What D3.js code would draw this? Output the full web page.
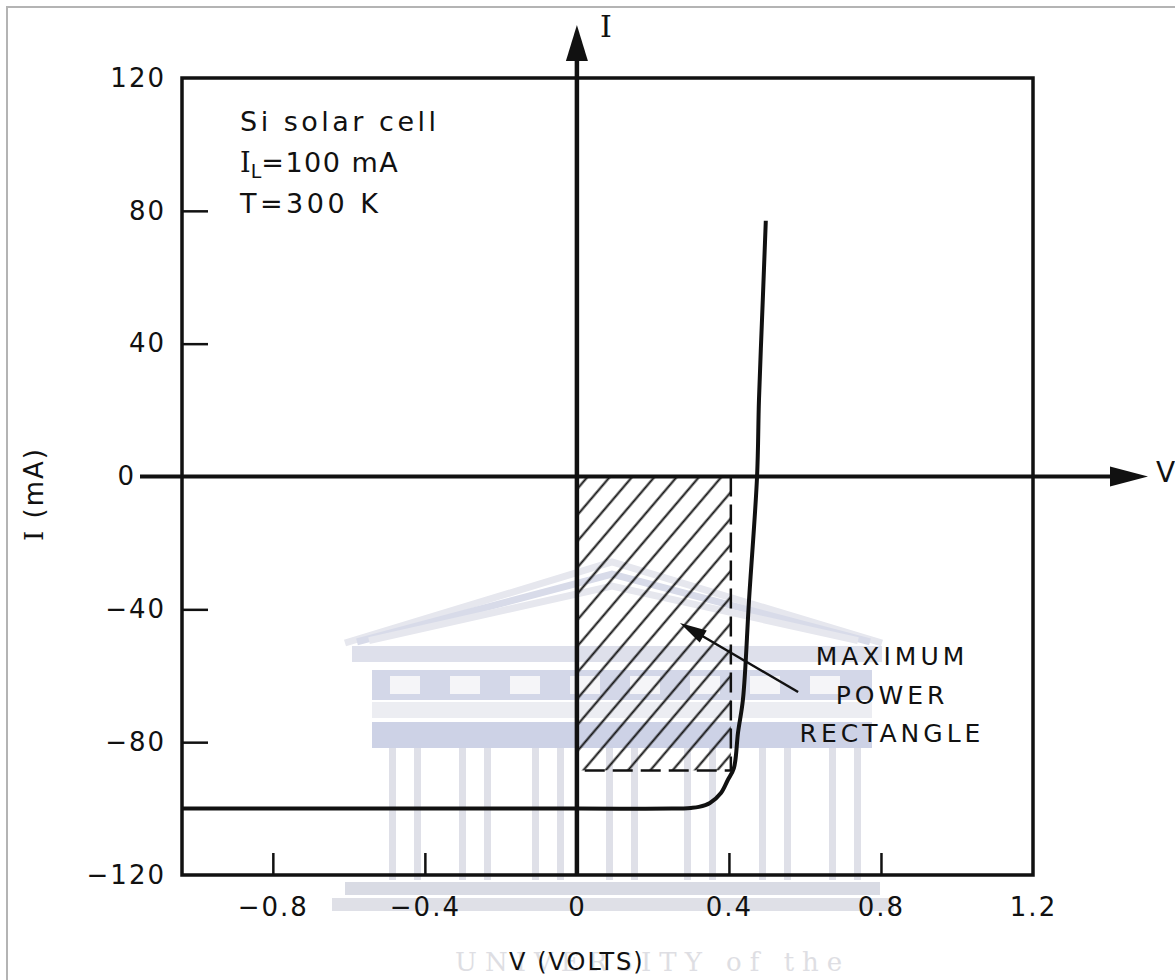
<!DOCTYPE html>
<meta charset="utf-8">
<style>
body { margin: 0; background: #fff; }
svg { display: block; }
.axis .domain { display: none; }
.axis text { font-family: "DejaVu Sans", sans-serif; font-size: 26px; letter-spacing: 2px; fill: #111; }
.axis line { stroke: #111; stroke-width: 2.5px; }
.lbl { font-family: "DejaVu Sans", sans-serif; fill: #111; }
</style>
<svg width="1175" height="980"></svg>
<script src="https://d3js.org/d3.v7.min.js"></script>
<script>

// I-V curve (V in volts, I in mA)
var voltage = [-1.039, 0, 0.25, 0.30, 0.321, 0.35, 0.379, 0.397, 0.413, 0.424, 0.437, 0.453, 0.474, 0.479, 0.489, 0.497];
var current = [-100, -100, -100, -99.8, -99.5, -98.3, -95.3, -91.4, -87.8, -77, -67, -37, 0, 23, 53, 77];

var xTickValues = [-0.8, -0.4, 0, 0.4, 0.8, 1.2];
var yTickValues = [-120, -80, -40, 0, 40, 80, 120];

// maximum power point (corner of the hatched rectangle)
var mppVoltage = 0.405, mppCurrent = -88.5;

var noteLines = ["Si solar cell", "=100 mA", "T=300 K"];
var rectLabel = ["MAXIMUM", "POWER", "RECTANGLE"];

var svg = d3.select("svg"),
    frame = {left: 182, right: 1033, top: 78, bottom: 875};

var x = d3.scaleLinear().domain([-1.039, 1.2]).range([frame.left, frame.right]);
var y = d3.scaleLinear().domain([-120, 120]).range([frame.bottom, frame.top]);

// page border of the scanned figure
svg.append("path")
    .attr("d", "M7,980 V7 H1175")
    .attr("fill", "none")
    .attr("stroke", "#b4b4b4")
    .attr("stroke-width", 2);

// faint watermark behind the plot
var wm = svg.append("g").attr("class", "watermark");
[0, 12, 24].forEach(function(o) {
  wm.append("path")
      .attr("d", "M" + (345 + o) + "," + (643 - o * 0.1) + " L612," + (562 + o) + " L" + (882 - o) + "," + (643 - o * 0.1))
      .attr("fill", "none")
      .attr("stroke", o === 12 ? "#d8dbe9" : "#e6e7ee")
      .attr("stroke-width", 7);
});
wm.append("rect").attr("x", 352).attr("y", 646).attr("width", 530).attr("height", 16).attr("fill", "#dee0eb");
wm.append("rect").attr("x", 372).attr("y", 670).attr("width", 500).attr("height", 30).attr("fill", "#d3d7e8");
d3.range(8).forEach(function(i) {
  wm.append("rect").attr("x", 390 + i * 60).attr("y", 676).attr("width", 30).attr("height", 18).attr("fill", "#f5f5f8");
});
wm.append("rect").attr("x", 372).attr("y", 702).attr("width", 500).attr("height", 16).attr("fill", "#ecedf2");
wm.append("rect").attr("x", 372).attr("y", 722).attr("width", 500).attr("height", 26).attr("fill", "#cdd2e6");
[405, 475, 548, 622, 700, 775, 845].forEach(function(c) {
  wm.append("rect").attr("x", c - 16).attr("y", 748).attr("width", 7).attr("height", 132).attr("fill", "#dfe0e8");
  wm.append("rect").attr("x", c + 9).attr("y", 748).attr("width", 7).attr("height", 132).attr("fill", "#dfe0e8");
});
wm.append("rect").attr("x", 345).attr("y", 882).attr("width", 535).attr("height", 13).attr("fill", "#d9dbe4");
wm.append("rect").attr("x", 332).attr("y", 898).attr("width", 562).attr("height", 13).attr("fill", "#dfe0e7");
wm.append("text")
    .attr("x", 455).attr("y", 971)
    .attr("font-family", "DejaVu Serif, serif")
    .attr("font-size", 26)
    .attr("letter-spacing", 8)
    .attr("fill", "#dedee3")
    .text("UNIVERSITY of the");

// hatched maximum power rectangle
var defs = svg.append("defs");
var pat = defs.append("pattern")
    .attr("id", "hatch")
    .attr("patternUnits", "userSpaceOnUse")
    .attr("width", 17)
    .attr("height", 17)
    .attr("patternTransform", "rotate(40.4)");
pat.append("line")
    .attr("x1", 8.5).attr("y1", 0).attr("x2", 8.5).attr("y2", 17)
    .attr("stroke", "#111").attr("stroke-width", 2);

svg.append("rect")
    .attr("x", x(0))
    .attr("y", y(0))
    .attr("width", x(mppVoltage) - x(0))
    .attr("height", y(mppCurrent) - y(0))
    .attr("fill", "url(#hatch)");

svg.append("path")
    .attr("d", "M" + x(mppVoltage) + "," + y(0) + " V" + y(mppCurrent) + " H" + x(0))
    .attr("fill", "none")
    .attr("stroke", "#111")
    .attr("stroke-width", 2.5)
    .attr("stroke-dasharray", "20,8");

// frame
svg.append("path")
    .attr("d", "M" + frame.left + "," + frame.top + " H" + frame.right + " V" + frame.bottom + " H" + frame.left + " Z")
    .attr("fill", "none")
    .attr("stroke", "#111")
    .attr("stroke-width", 3.5);

// axes (ticks + labels)
var gy = svg.append("g")
    .attr("class", "axis")
    .attr("transform", "translate(" + frame.left + ",0)")
    .call(d3.axisLeft(y).tickValues(yTickValues).tickSizeInner(-26).tickSizeOuter(0).tickPadding(16));
gy.selectAll(".tick line").filter(function(d) { return d === 0 || Math.abs(d) === 120; }).remove();
gy.selectAll(".tick").filter(function(d) { return d === 0; }).select("text").attr("x", -46);

var gx = svg.append("g")
    .attr("class", "axis")
    .attr("transform", "translate(0," + frame.bottom + ")")
    .call(d3.axisBottom(x).tickValues(xTickValues).tickSizeInner(-22).tickSizeOuter(0).tickPadding(23)
      .tickFormat(function(d) { return d === 0 ? "0" : d3.format(".1f")(d); }));
gx.selectAll(".tick line").filter(function(d) { return d === 0 || d === 1.2; }).remove();

// I axis with arrow
var ax0 = x(0), ay0 = y(0);
svg.append("line")
    .attr("x1", ax0).attr("y1", frame.bottom)
    .attr("x2", ax0).attr("y2", 50)
    .attr("stroke", "#111").attr("stroke-width", 4.5);
svg.append("path")
    .attr("d", "M" + ax0 + ",25 L" + (ax0 + 11) + ",61 L" + (ax0 - 11) + ",61 Z")
    .attr("fill", "#111");
svg.append("text")
    .attr("x", 600).attr("y", 37)
    .attr("font-family", "DejaVu Serif, serif")
    .attr("font-size", 30)
    .attr("fill", "#111")
    .text("I");

// V axis with arrow
svg.append("line")
    .attr("x1", frame.left - 42).attr("y1", ay0)
    .attr("x2", 1120).attr("y2", ay0)
    .attr("stroke", "#111").attr("stroke-width", 4);
svg.append("path")
    .attr("d", "M1148," + ay0 + " L1110," + (ay0 - 10) + " L1110," + (ay0 + 10) + " Z")
    .attr("fill", "#111");
svg.append("text")
    .attr("class", "lbl")
    .attr("x", 1156).attr("y", ay0 + 5)
    .attr("font-size", 28)
    .text("V");

// I-V curve
var line = d3.line()
    .x(function(d) { return x(d[0]); })
    .y(function(d) { return y(d[1]); })
    .curve(d3.curveCatmullRom.alpha(0.5));

svg.append("path")
    .datum(d3.zip(voltage, current))
    .attr("d", line)
    .attr("fill", "none")
    .attr("stroke", "#111")
    .attr("stroke-width", 4)
    .attr("stroke-linejoin", "round");

// axis titles
var yTitle = svg.append("text")
    .attr("class", "lbl")
    .attr("transform", "translate(43,494) rotate(-90)")
    .attr("text-anchor", "middle")
    .attr("font-size", 26)
    .attr("letter-spacing", 2);
yTitle.append("tspan").attr("font-family", "DejaVu Serif, serif").text("I");
yTitle.append("tspan").text(" (mA)");

svg.append("text")
    .attr("class", "lbl")
    .attr("x", x(0)).attr("y", 970)
    .attr("text-anchor", "middle")
    .attr("font-size", 24)
    .attr("letter-spacing", 2)
    .text("V (VOLTS)");

// cell note
var note = svg.append("g")
    .attr("class", "lbl")
    .attr("font-size", 27)
    .attr("letter-spacing", 3.5);
note.append("text").attr("x", 240).attr("y", 131).text(noteLines[0]);
var n2 = note.append("text").attr("x", 240).attr("y", 172);
n2.append("tspan").attr("font-family", "DejaVu Serif, serif").attr("letter-spacing", 0).text("I");
n2.append("tspan").attr("dy", 6).attr("font-size", 19).attr("letter-spacing", 0).text("L");
n2.append("tspan").attr("dy", -6).attr("letter-spacing", 1.5).text(noteLines[1]);
note.append("text").attr("x", 240).attr("y", 213).text(noteLines[2]);

// maximum power rectangle label and pointer
svg.append("g")
    .attr("class", "lbl")
    .attr("font-size", 25)
    .attr("letter-spacing", 4)
    .attr("text-anchor", "middle")
  .selectAll("text")
  .data(rectLabel)
  .enter().append("text")
    .attr("x", 892)
    .attr("y", function(d, i) { return 665 + i * 38.5; })
    .text(function(d) { return d; });

var p0 = [x(0.582), y(-64.9)], p1 = [x(0.271), y(-44.1)];
var dx = p1[0] - p0[0], dy = p1[1] - p0[1], len = Math.sqrt(dx * dx + dy * dy);
var ux = dx / len, uy = dy / len;
svg.append("line")
    .attr("x1", p0[0]).attr("y1", p0[1])
    .attr("x2", p1[0] - ux * 20).attr("y2", p1[1] - uy * 20)
    .attr("stroke", "#111").attr("stroke-width", 2.5);
svg.append("path")
    .attr("d", "M" + p1[0] + "," + p1[1] +
      " L" + (p1[0] - ux * 27 - uy * 7) + "," + (p1[1] - uy * 27 + ux * 7) +
      " L" + (p1[0] - ux * 27 + uy * 7) + "," + (p1[1] - uy * 27 - ux * 7) + " Z")
    .attr("fill", "#111");

</script>
